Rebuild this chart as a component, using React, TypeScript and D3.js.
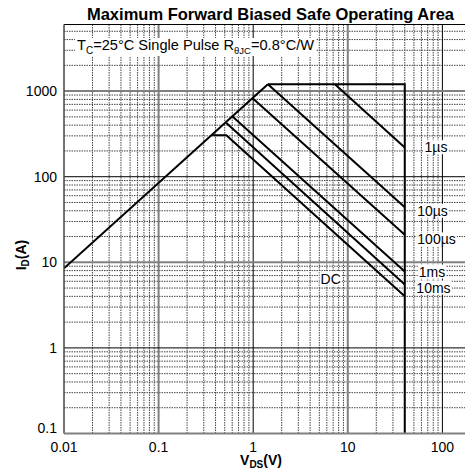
import { useEffect, useRef } from 'react';
import * as d3 from 'd3';

// axis ticks
const xTicks = [0.01, 0.1, 1, 10, 100];
const xTickLabels = ['0.01', '0.1', '1', '10', '100'];
const yTicks = [0.1, 1, 10, 100, 1000];
const yTickLabels = ['0.1', '1', '10', '100', '1000'];

// SOA boundary lines, [V, A]
const rdsLimit: [number, number][] = [[0.01, 8.5], [1.43, 1200]];
const outline: [number, number][] = [[1.43, 1200], [40, 1200], [40, 0.1]];
const line1us: [number, number][] = [[7.3, 1200], [40, 220]];
const line10us: [number, number][] = [[1.43, 1200], [40, 44]];
const line100us: [number, number][] = [[0.98, 830], [40, 21]];
const line1ms: [number, number][] = [[0.6, 510], [40, 7.8]];
const line10ms: [number, number][] = [[0.52, 425], [40, 5.5]];
const lineDC: [number, number][] = [[0.37, 305], [0.52, 305], [40, 4.0]];

// curve labels, [text, V, A]
const curveLabels: [string, number, number][] = [
  ['1µs', 85.5, 221],
  ['10µs', 78.5, 40],
  ['100µs', 86.7, 18.5],
  ['1ms', 77.6, 7.8],
  ['10ms', 80.5, 5.07],
  ['DC', 6.6, 6.46],
];

export default function App() {
  const svgRef = useRef<SVGSVGElement>(null);

  useEffect(() => {
    if (!svgRef.current) return;
    const svg = d3.select(svgRef.current);
    svg.selectAll('*').remove();

    const width = 465;
    const height = 474;
    const left = 64;
    const top = 24.5;
    const bottom = 433.5;

    const x = d3.scaleLog().domain([0.01, 1000]).range([left, left + 5 * 94.6]);
    const y = d3.scaleLog().domain([0.1, 6000]).range([bottom, top]);

    svg.attr('width', width).attr('height', height);
    svg.append('rect').attr('width', width).attr('height', height).attr('fill', '#fff');

    svg.append('defs').append('clipPath').attr('id', 'plot-clip')
      .append('rect')
      .attr('x', left).attr('y', top)
      .attr('width', width - left).attr('height', bottom - top);

    const g = svg.append('g').attr('clip-path', 'url(#plot-clip)');

    // minor grid
    const xMinor: number[] = [];
    for (const d of [0.01, 0.1, 1, 10, 100]) for (let k = 2; k <= 9; k++) xMinor.push(d * k);
    const yMinor: number[] = [];
    for (const d of [0.1, 1, 10, 100, 1000]) for (let k = 2; k <= 9; k++) if (d * k <= 6000) yMinor.push(d * k);

    g.selectAll('line.xminor').data(xMinor).enter().append('line')
      .attr('x1', d => x(d)).attr('x2', d => x(d))
      .attr('y1', top).attr('y2', bottom)
      .attr('stroke', '#444').attr('stroke-width', 1).attr('stroke-dasharray', '1.5,1');
    g.selectAll('line.yminor').data(yMinor).enter().append('line')
      .attr('x1', left).attr('x2', width)
      .attr('y1', d => y(d)).attr('y2', d => y(d))
      .attr('stroke', '#444').attr('stroke-width', 1).attr('stroke-dasharray', '1.5,1');

    // major grid: 0.1 / 10 / 1000 grey and heavier, 1 / 100 thin black
    const isGrey = (d: number) => d === 0.1 || d === 10 || d === 1000;
    g.selectAll('line.xmajor').data(xTicks.slice(1)).enter().append('line')
      .attr('x1', d => x(d)).attr('x2', d => x(d))
      .attr('y1', top).attr('y2', bottom)
      .attr('stroke', d => (isGrey(d) ? '#808080' : '#000'))
      .attr('stroke-width', d => (isGrey(d) ? 2 : 1));
    g.selectAll('line.ymajor').data(yTicks.slice(1)).enter().append('line')
      .attr('x1', left).attr('x2', width)
      .attr('y1', d => y(d)).attr('y2', d => y(d))
      .attr('stroke', d => (isGrey(d) ? '#808080' : '#000'))
      .attr('stroke-width', d => (isGrey(d) ? 2 : 1));

    // curves
    const line = d3.line<[number, number]>().x(d => x(d[0])).y(d => y(d[1]));
    [rdsLimit, outline, line1us, line10us, line100us, line1ms, line10ms, lineDC].forEach(pts => {
      g.append('path').attr('d', line(pts)).attr('fill', 'none')
        .attr('stroke', '#000').attr('stroke-width', 2).attr('stroke-linejoin', 'miter');
    });

    // curve labels on white boxes
    const font = 'Liberation Sans, Arial, sans-serif';
    curveLabels.forEach(([t, v, a]) => {
      const lg = g.append('g');
      const txt = lg.append('text')
        .attr('x', x(v)).attr('y', y(a) + 5)
        .attr('text-anchor', 'middle')
        .attr('font-family', font).attr('font-size', 14).attr('fill', '#000')
        .text(t);
      const bb = (txt.node() as SVGTextElement).getBBox();
      lg.insert('rect', 'text')
        .attr('x', bb.x - 1).attr('y', bb.y + 1)
        .attr('width', bb.width + 2).attr('height', bb.height - 2)
        .attr('fill', '#fff');
    });

    // annotation
    const ann = g.append('g');
    const at = ann.append('text')
      .attr('x', 77).attr('y', 50)
      .attr('font-family', font).attr('font-size', 14.6).attr('fill', '#000');
    at.append('tspan').text('T');
    at.append('tspan').attr('font-size', 10).attr('dy', 4).text('C');
    at.append('tspan').attr('dy', -4).text('=25°C Single Pulse R');
    at.append('tspan').attr('font-size', 9.5).attr('dy', 4).text('θJC');
    at.append('tspan').attr('dy', -4).text('=0.8°C/W');
    const abb = (at.node() as SVGTextElement).getBBox();
    ann.insert('rect', 'text')
      .attr('x', abb.x - 2).attr('y', abb.y + 1)
      .attr('width', abb.width + 4).attr('height', abb.height - 1)
      .attr('fill', '#fff');

    // borders
    svg.append('line').attr('x1', left).attr('x2', width).attr('y1', top).attr('y2', top)
      .attr('stroke', '#000').attr('stroke-width', 1);
    svg.append('line').attr('x1', left).attr('x2', left).attr('y1', top).attr('y2', bottom)
      .attr('stroke', '#444').attr('stroke-width', 1.5);
    svg.append('line').attr('x1', left).attr('x2', width).attr('y1', bottom).attr('y2', bottom)
      .attr('stroke', '#808080').attr('stroke-width', 2);

    // tick labels
    svg.selectAll('text.xt').data(xTicks).enter().append('text')
      .attr('x', d => x(d)).attr('y', 452)
      .attr('text-anchor', 'middle')
      .attr('font-family', font).attr('font-size', 14).attr('fill', '#000')
      .text((d, i) => xTickLabels[i]);
    svg.selectAll('text.yt').data(yTicks).enter().append('text')
      .attr('x', 57).attr('y', d => (d === 0.1 ? y(d) - 1 : y(d) + 5))
      .attr('text-anchor', 'end')
      .attr('font-family', font).attr('font-size', 14).attr('fill', '#000')
      .text((d, i) => yTickLabels[i]);

    // title
    svg.append('text')
      .attr('x', 270.5).attr('y', 20)
      .attr('text-anchor', 'middle')
      .attr('font-family', font).attr('font-size', 16.5).attr('font-weight', 'bold')
      .text('Maximum Forward Biased Safe Operating Area');

    // axis titles
    const xl = svg.append('text')
      .attr('x', 261).attr('y', 465)
      .attr('text-anchor', 'middle')
      .attr('font-family', font).attr('font-size', 14).attr('font-weight', 'bold');
    xl.append('tspan').text('V');
    xl.append('tspan').attr('font-size', 10).attr('dy', 3).text('DS');
    xl.append('tspan').attr('dy', -3).text('(V)');

    const yl = svg.append('text')
      .attr('transform', 'translate(26,255) rotate(-90)')
      .attr('text-anchor', 'middle')
      .attr('font-family', font).attr('font-size', 14).attr('font-weight', 'bold');
    yl.append('tspan').text('I');
    yl.append('tspan').attr('font-size', 10).attr('dy', 3).text('D');
    yl.append('tspan').attr('dy', -3).text('(A)');
  }, []);

  return (
    <div style={{ position: 'fixed', left: 0, top: 0 }}>
      <svg ref={svgRef} style={{ display: 'block' }} />
    </div>
  );
}
